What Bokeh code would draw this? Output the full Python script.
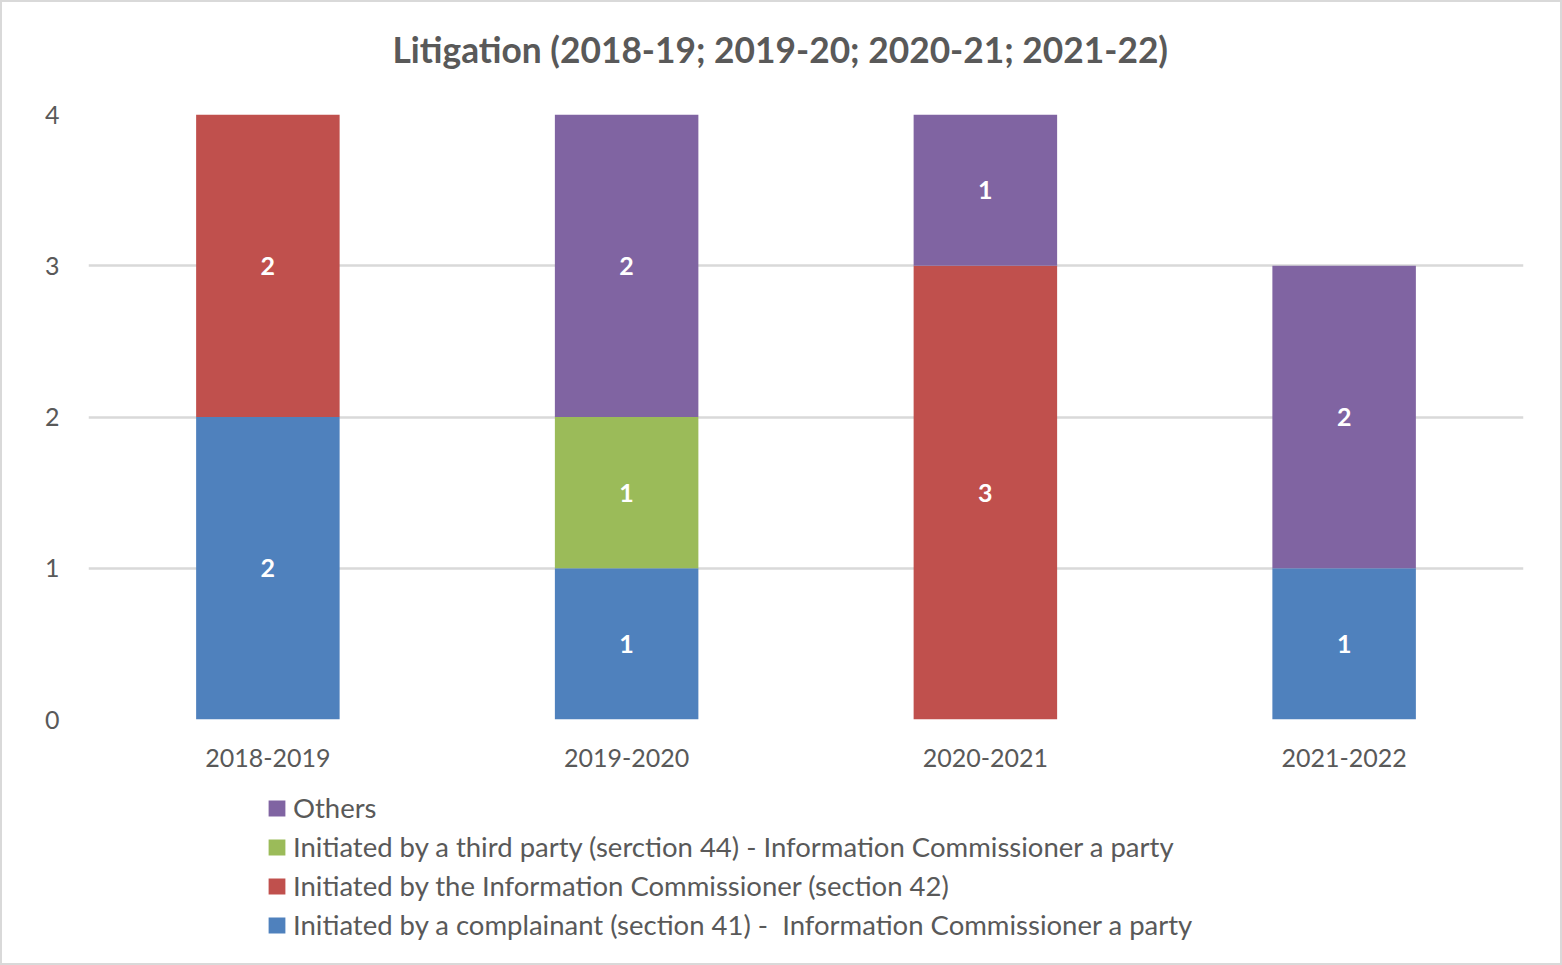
from bokeh.plotting import figure
from bokeh.layouts import column
from bokeh.models import (ColumnDataSource, FactorRange, Range1d, Legend, LegendItem,
                          LabelSet, FixedTicker, Title)
from bokeh.core.properties import value
from bokeh.embed import file_html
from bokeh.resources import INLINE

years = ["2018-2019", "2019-2020", "2020-2021", "2021-2022"]
complainant = [2, 1, 0, 1]
commissioner = [2, 0, 3, 0]
third_party = [0, 1, 0, 0]
others = [0, 2, 1, 2]
y_ticks = [0, 1, 2, 3, 4]

series_keys = ["complainant", "commissioner", "third_party", "others"]
series_names = [
    "Initiated by a complainant (section 41) -  Information Commissioner a party",
    "Initiated by the Information Commissioner (section 42)",
    "Initiated by a third party (serction 44) - Information Commissioner a party",
    "Others",
]
colors = ["#4F81BD", "#C0504D", "#9BBB59", "#8064A2"]
title_text = "Litigation (2018-19; 2019-20; 2020-21; 2021-22)"

FONT = "Lato"
GREY = "#595959"

data = dict(years=years, complainant=complainant, commissioner=commissioner,
            third_party=third_party, others=others)
source = ColumnDataSource(data)

# ---------------- main chart ----------------
p = figure(x_range=FactorRange(*years, range_padding=0), y_range=Range1d(0, 4),
           width=1558, height=777, output_backend="svg", toolbar_location=None,
           frame_width=1435, frame_height=605,
           min_border_left=86, min_border_right=37, min_border_top=112, min_border_bottom=60)
p.x_range.range_padding = 0

renderers = p.vbar_stack(series_keys, x="years", width=0.4, color=colors, source=source,
                         line_color=None)

# data labels at the middle of each segment
lx, ly, lt = [], [], []
bottoms = [0] * len(years)
for key in series_keys:
    vals = data[key]
    for i, v in enumerate(vals):
        if v > 0:
            lx.append(years[i])
            ly.append(bottoms[i] + v / 2)
            lt.append(str(v))
        bottoms[i] += v
lab_src = ColumnDataSource(dict(x=lx, y=ly, t=lt))
labels = LabelSet(x="x", y="y", text="t", source=lab_src, text_color="white",
                  text_font=value(FONT), text_font_style="bold", text_font_size="25px",
                  text_align="center", text_baseline="middle")
p.add_layout(labels)

# axes / grid
p.yaxis.ticker = FixedTicker(ticks=y_ticks)
p.xaxis.axis_line_color = None
p.yaxis.axis_line_color = None
p.xaxis.major_tick_line_color = None
p.yaxis.major_tick_line_color = None
p.xaxis.minor_tick_line_color = None
p.yaxis.minor_tick_line_color = None
p.xaxis.major_label_text_font = FONT
p.yaxis.major_label_text_font = FONT
p.xaxis.major_label_text_font_size = "25px"
p.yaxis.major_label_text_font_size = "25px"
p.xaxis.major_label_text_color = GREY
p.yaxis.major_label_text_color = GREY
p.xaxis.major_label_standoff = 23
p.yaxis.major_label_standoff = 23
p.xgrid.grid_line_color = None
p.ygrid.grid_line_color = "#D9D9D9"
p.ygrid.grid_line_width = 2.5
p.outline_line_color = None
p.ygrid.level = "underlay"

# spacer between frame and title, then the title itself
p.title = None
p.add_layout(Title(text=" ", text_font_size="1px", standoff=41), "above")
p.add_layout(Title(text=title_text, text_font=FONT, text_font_style="bold",
                   text_font_size="35.3px", text_color=GREY, align="left", offset=304,
                   vertical_align="bottom", standoff=0), "above")

# ---------------- legend strip ----------------
# same stacked series drawn on a y range far above the data, so only the legend shows
q = figure(x_range=FactorRange(*years), y_range=Range1d(100, 101),
           width=1558, height=184, output_backend="svg", toolbar_location=None,
           x_axis_location=None, y_axis_location=None, min_border=0)
q.grid.visible = False
q.outline_line_color = None
legend_renderers = q.vbar_stack(series_keys, x="years", width=0.4, color=colors,
                                source=source, line_color=None)

items = [LegendItem(label=series_names[i], renderers=[legend_renderers[i]]) for i in [3, 2, 1, 0]]
legend = Legend(items=items, location=(178, 19), orientation="vertical",
                label_text_font=FONT, label_text_font_size="27.5px", label_text_color=GREY,
                glyph_width=21, glyph_height=20, label_standoff=6, label_height=39,
                spacing=0, padding=0, margin=0, border_line_color=None,
                background_fill_alpha=0)
q.add_layout(legend, "center")

layout = column(p, q, spacing=0)
layout.styles = {"border": "2px solid #D9D9D9"}

open("out.html", "w").write(file_html(layout, INLINE))
